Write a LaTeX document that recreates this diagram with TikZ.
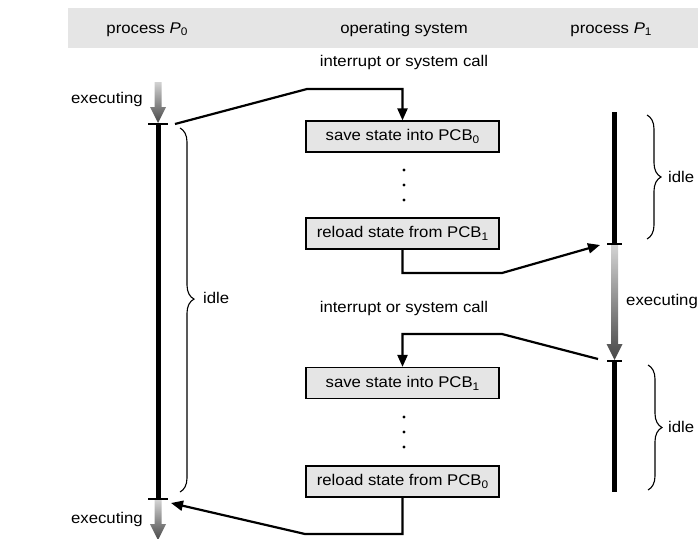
\documentclass[tikz,border=0pt]{standalone}
\usepackage{fontspec}
\setmainfont[FakeStretch=1.08]{Liberation Sans}
\usetikzlibrary{arrows.meta,decorations.pathreplacing}

% lowered small index, as in PCB_0
\newcommand\lowsub[1]{\raisebox{-0.35ex}{\fontsize{11}{11}\selectfont #1}}
% shaded downward arrow: x, top y, tip y
\newcommand\grayarrow[3]{%
  \shade[top color=gray!35, bottom color=black!72]
    (#1-3.5,#2) -- (#1+3.5,#2) -- (#1+3.5,#3-16) -- (#1+8,#3-16)
    -- (#1,#3) -- (#1-8,#3-16) -- (#1-3.5,#3-16) -- cycle;}

\begin{document}
\begin{tikzpicture}[x=1pt,y=-1pt,
  font=\fontsize{15.5}{18}\selectfont,
  stepbox/.style={draw, line width=1.2pt, fill=gray!20,
    minimum width=193pt, minimum height=31pt, inner sep=0pt},
  conn/.style={line width=2.2pt, -{Triangle[length=12pt,width=10pt]}},
  timeline/.style={line width=5pt},
  tickmark/.style={line width=1.5pt},
  bracket/.style={decorate, decoration={brace, amplitude=14pt}, line width=1.1pt},
  lbl/.style={inner sep=0pt}]

\useasboundingbox (0,0) rectangle (698,538);

% header band
\fill[gray!20] (68,8) rectangle (698,48);
\node[lbl, anchor=base] (h0) at (147,33) {process \textit{P}\lowsub{0}};
\node[lbl, anchor=base] (hos) at (404,33) {operating system};
\node[lbl, anchor=base] (h1) at (611,33) {process \textit{P}\lowsub{1}};

% operating system steps
\node[stepbox] (save0)   at (402.5,136.5) {save state into PCB\lowsub{0}};
\node[stepbox] (reload1) at (402.5,233.5) {reload state from PCB\lowsub{1}};
\node[stepbox] (save1)   at (402.5,383)   {save state into PCB\lowsub{1}};
\node[stepbox] (reload0) at (402.5,481.5) {reload state from PCB\lowsub{0}};

\foreach \y in {170,185,200,417,432,447}
  \fill (404,\y) circle (1.7);

\node[lbl] (irq0) at (404,62)  {interrupt or system call};
\node[lbl] (irq1) at (404,308) {interrupt or system call};

% process P0 time line
\grayarrow{158}{82}{123}
\draw[timeline] (158,124) -- (158,499);
\draw[tickmark] (148,124) -- (168,124);
\draw[tickmark] (148,499) -- (168,499);
\grayarrow{158}{500}{540}
\node[lbl, anchor=base east] (ex0) at (143,103) {executing};
\node[lbl, anchor=base east] (ex1) at (143,523) {executing};
\draw[bracket, decoration={aspect=0.47}] (180,128) -- (180,492);
\node[lbl, anchor=west] (idle0) at (203,298) {idle};

% process P1 time line
\draw[timeline] (614.5,112) -- (614.5,244);
\draw[tickmark] (607,244) -- (622,244);
\grayarrow{614.5}{245}{360}
\draw[tickmark] (607,361) -- (622,361);
\draw[timeline] (614.5,361) -- (614.5,492);
\node[lbl, anchor=base west] (ex2) at (626,305) {executing};
\draw[bracket] (647,115) -- (647,239);
\node[lbl, anchor=west] (idle1) at (668,177) {idle};
\draw[bracket] (648,365) -- (648,490);
\node[lbl, anchor=west] (idle2) at (668,427) {idle};

% switch connectors
\coordinate (p0out) at (175,124);
\coordinate (b1) at (307,89);
\coordinate (b2) at (502,273);
\coordinate (p1in) at (600,245);
\coordinate (p1out) at (598,359);
\coordinate (b3) at (502,334);
\coordinate (b4) at (305,534);
\coordinate (p0in) at (171,503);

\draw[conn] (p0out) -- (b1) -| (save0.north);
\draw[conn] (reload1.south) |- (b2) -- (p1in);
\draw[conn] (p1out) -- (b3) -| (save1.north);
\draw[conn] (reload0.south) |- (b4) -- (p0in);
\end{tikzpicture}
\end{document}
